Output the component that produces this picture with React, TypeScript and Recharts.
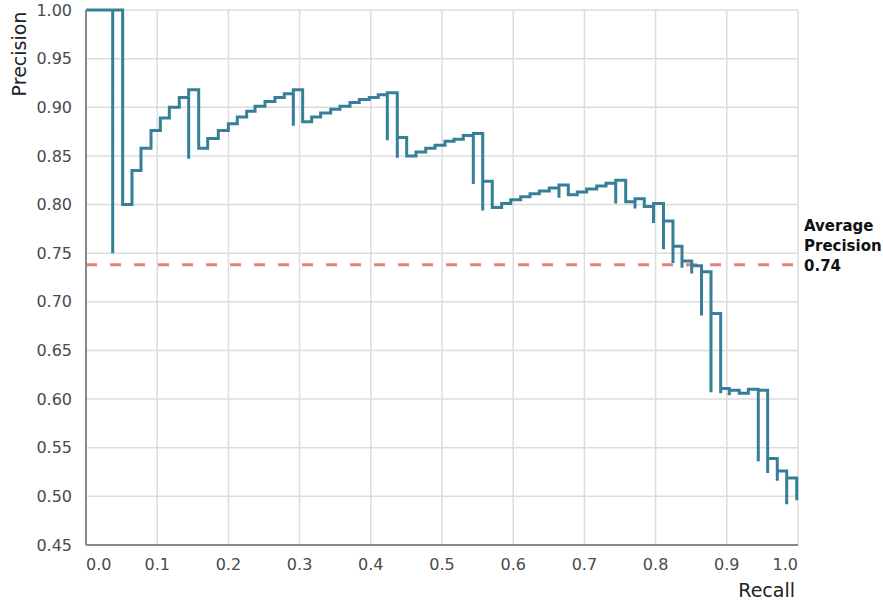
import React from "react";
import {
  LineChart, Line, XAxis, YAxis, CartesianGrid, ReferenceLine,
} from "recharts";

// recall / precision pairs of the step curve (spikes are repeated recall values)
const RECALL = [
  0, 0.0375, 0.0375, 0.0515, 0.0646, 0.0772, 0.0913, 0.1044, 0.117, 0.131,
  0.1442, 0.1442, 0.1583, 0.1709, 0.1858, 0.1999, 0.2125, 0.2257, 0.2374, 0.2514,
  0.2654, 0.2785, 0.2912, 0.2912, 0.3043, 0.317, 0.3296, 0.3437, 0.3567, 0.3708,
  0.3838, 0.3979, 0.4105, 0.4232, 0.4232, 0.4372, 0.4372, 0.4504, 0.4635, 0.4771,
  0.4902, 0.5042, 0.5169, 0.5299, 0.544, 0.544, 0.5572, 0.5572, 0.5706, 0.5838,
  0.5965, 0.6105, 0.6236, 0.6367, 0.6507, 0.6643, 0.6643, 0.6774, 0.69, 0.7032,
  0.7173, 0.7303, 0.744, 0.744, 0.758, 0.7711, 0.7711, 0.7841, 0.7971, 0.7971,
  0.8111, 0.8111, 0.8244, 0.8244, 0.8371, 0.8371, 0.8507, 0.8507, 0.8645, 0.8645,
  0.8778, 0.8778, 0.8914, 0.8914, 0.9035, 0.9035, 0.9175, 0.9302, 0.9442, 0.9442,
  0.9574, 0.9574, 0.9709, 0.9709, 0.9841, 0.9841, 0.9982,
];
const PRECISION = [
  1.0, 0.75, 1.0, 0.8, 0.835, 0.858, 0.876, 0.889, 0.9, 0.91,
  0.847, 0.918, 0.858, 0.868, 0.876, 0.883, 0.89, 0.896, 0.901, 0.906,
  0.91, 0.914, 0.881, 0.918, 0.885, 0.89, 0.894, 0.898, 0.901, 0.905,
  0.908, 0.91, 0.913, 0.866, 0.915, 0.848, 0.869, 0.85, 0.854, 0.858,
  0.861, 0.865, 0.867, 0.871, 0.821, 0.873, 0.794, 0.824, 0.797, 0.801,
  0.805, 0.808, 0.811, 0.814, 0.817, 0.807, 0.82, 0.81, 0.813, 0.816,
  0.819, 0.822, 0.801, 0.825, 0.803, 0.796, 0.806, 0.798, 0.781, 0.801,
  0.754, 0.783, 0.74, 0.757, 0.735, 0.742, 0.729, 0.737, 0.686, 0.731,
  0.607, 0.688, 0.606, 0.611, 0.604, 0.609, 0.606, 0.61, 0.536, 0.609,
  0.524, 0.539, 0.516, 0.526, 0.492, 0.519, 0.496,
];
const X_TICKS = [0, 0.1, 0.2, 0.3, 0.4, 0.5, 0.6, 0.7, 0.8, 0.9, 1.0];
const Y_TICKS = [0.45, 0.5, 0.55, 0.6, 0.65, 0.7, 0.75, 0.8, 0.85, 0.9, 0.95, 1.0];
const AVG_PRECISION = 0.738;
const AVG_LABEL = ["Average", "Precision", "0.74"];

const data = RECALL.map((r, i) => ({ recall: r, precision: PRECISION[i] }));

const FONT = "'DejaVu Sans', sans-serif";

const XTick = (props: any) => {
  const { x, y, payload } = props;
  const v = payload.value as number;
  const anchor = v === 0 ? "start" : v === 1 ? "end" : "middle";
  return (
    <text x={x} y={y} dy="0.71em" textAnchor={anchor} fontSize={16} fill="#4a4a4a" fontFamily={FONT}>
      {v.toFixed(1)}
    </text>
  );
};

export default function App() {
  return (
    <div style={{ position: "absolute", left: 0, top: 0, background: "#fff" }}>
      <LineChart width={883} height={603} data={data} margin={{ top: 10, right: 85, bottom: 0, left: 0 }}>
        <CartesianGrid stroke="#dcdcdc" strokeWidth={1.5} />
        <XAxis
          dataKey="recall" type="number" domain={[0, 1]} ticks={X_TICKS}
          height={58} tickSize={0} tickMargin={14} tick={<XTick />}
          axisLine={{ stroke: "#888", strokeWidth: 2 }} tickLine={false}
          label={{
            content: ({ viewBox }: any) => (
              <text x={viewBox.x + viewBox.width - 3} y={viewBox.y + 52} textAnchor="end"
                    fontSize={19} fill="#222" fontFamily={FONT}>Recall</text>
            ),
          }}
        />
        <YAxis
          type="number" domain={[0.45, 1]} ticks={Y_TICKS} width={86}
          tickSize={0} tickMargin={14} tickLine={false}
          tickFormatter={(v: number) => v.toFixed(2)}
          tick={{ fontSize: 16, fill: "#4a4a4a", fontFamily: FONT }}
          axisLine={{ stroke: "#888", strokeWidth: 2 }}
          label={{
            content: ({ viewBox }: any) => (
              <text transform={`translate(${viewBox.x + 26}, ${viewBox.y + 44}) rotate(-90)`}
                    textAnchor="middle" fontSize={19} fill="#222" fontFamily={FONT}>Precision</text>
            ),
          }}
        />
        <ReferenceLine
          y={AVG_PRECISION} stroke="#e77f7f" strokeWidth={3} strokeDasharray="11 13"
          label={{
            content: ({ viewBox }: any) => (
              <text x={viewBox.x + viewBox.width + 6} y={viewBox.y} fontSize={15} fontWeight={700}
                    fill="#111" fontFamily={FONT}>
                {AVG_LABEL.map((t, i) => (
                  <tspan key={t} x={viewBox.x + viewBox.width + 6} y={viewBox.y - 34 + i * 20}>{t}</tspan>
                ))}
              </text>
            ),
          }}
        />
        <Line
          type="stepAfter" dataKey="precision" stroke="#367f99" strokeWidth={3}
          dot={false} activeDot={false} isAnimationActive={false}
        />
      </LineChart>
    </div>
  );
}
